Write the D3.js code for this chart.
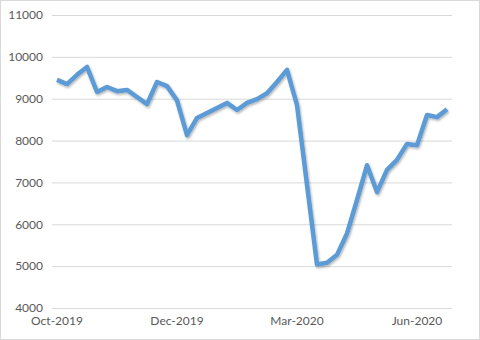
<!DOCTYPE html>
<html>
<head>
<meta charset="utf-8">
<script src="https://cdn.jsdelivr.net/npm/d3@7"></script>
<style>
  body { margin: 0; background: #fff; }
  #chart svg { display: block; }
  .tick text { font-family: Lato, "Open Sans", sans-serif; font-size: 12px; fill: #595959; }
</style>
</head>
<body>
<div id="chart"></div>
<script>
// Values, one per period
const values = [9450, 9350, 9570, 9760, 9160, 9280, 9180, 9210, 9040, 8870,
                9400, 9300, 8960, 8130, 8540, 8660, 8780, 8900, 8730, 8900,
                8990, 9130, 9400, 9690, 8850, 6950, 5040, 5080, 5270, 5780,
                6580, 7410, 6770, 7300, 7540, 7920, 7890, 8610, 8560, 8750];
// Category labels shown on the x axis (index -> label)
const xLabels = { 0: "Oct-2019", 12: "Dec-2019", 24: "Mar-2020", 36: "Jun-2020" };
const yTicks = [4000, 5000, 6000, 7000, 8000, 9000, 10000, 11000];

const W = 480, H = 340;
const margin = { top: 15, right: 28, bottom: 32, left: 52 },
    width = W - margin.left - margin.right,
    height = H - margin.top - margin.bottom;

const root = d3.select("#chart")
    .append("svg")
    .attr("width", W)
    .attr("height", H);

// outer chart border
root.append("rect")
    .attr("x", 0.5).attr("y", 0.5)
    .attr("width", W - 1).attr("height", H - 1)
    .attr("fill", "#fff")
    .attr("stroke", "#d9d9d9");

const defs = root.append("defs");
const shadow = defs.append("filter").attr("id", "shadow")
    .attr("x", "-10%").attr("y", "-10%").attr("width", "120%").attr("height", "120%");
shadow.append("feDropShadow")
    .attr("dx", 1).attr("dy", 1.5).attr("stdDeviation", 1.2)
    .attr("flood-color", "#000").attr("flood-opacity", 0.3);

const svg = root.append("g")
    .attr("transform", `translate(${margin.left},${margin.top})`);

// X: category bands, one per period
const x = d3.scaleBand()
    .domain(d3.range(values.length))
    .range([0, width]);

const y = d3.scaleLinear()
    .domain([4000, 11000])
    .range([height, 0]);

// gridlines + y labels
const yAxis = svg.append("g")
    .call(d3.axisLeft(y).tickValues(yTicks).tickSize(-width).tickPadding(9).tickFormat(d3.format("d")));
yAxis.select(".domain").remove();
yAxis.selectAll(".tick line").attr("stroke", "#d9d9d9");

// x labels
const xAxis = svg.append("g")
    .attr("transform", `translate(0,${height})`)
    .call(d3.axisBottom(x)
        .tickValues(Object.keys(xLabels).map(Number))
        .tickSize(0)
        .tickPadding(8)
        .tickFormat(i => xLabels[i]));
xAxis.select(".domain").remove();

// the line
const line = d3.line()
    .x((d, i) => x(i) + x.bandwidth() / 2)
    .y(d => y(d));

svg.append("path")
    .datum(values)
    .attr("fill", "none")
    .attr("stroke", "#5b9bd5")
    .attr("stroke-width", 4.5)
    .attr("stroke-linejoin", "round")
    .attr("filter", "url(#shadow)")
    .attr("d", line);
</script>
</body>
</html>
